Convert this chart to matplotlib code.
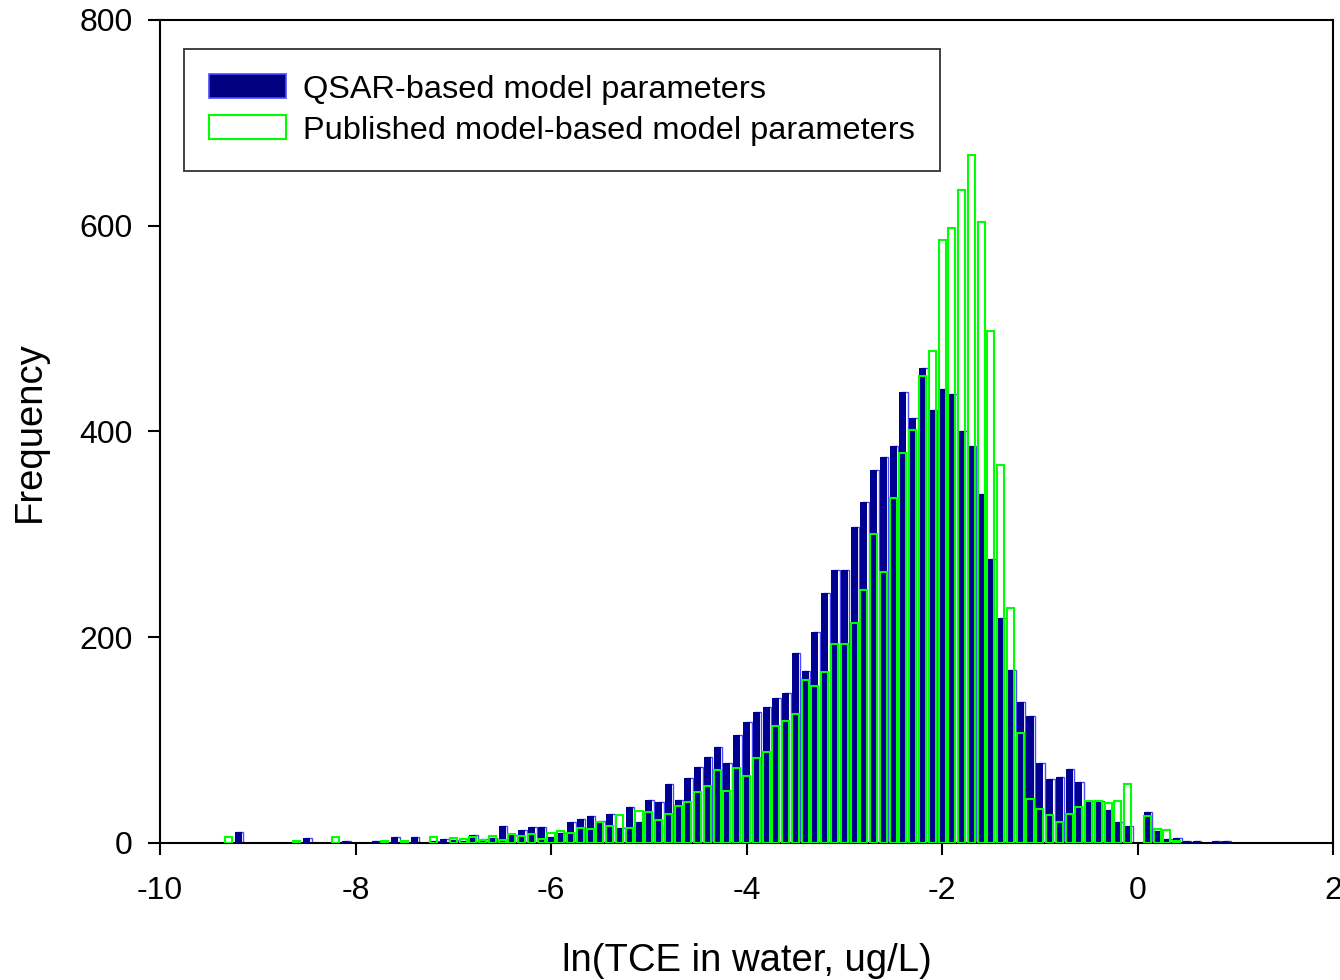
import numpy as np
import matplotlib.pyplot as plt
from matplotlib.patches import Patch

plt.rcParams['font.family'] = ['Liberation Sans', 'DejaVu Sans']
plt.rcParams['axes.unicode_minus'] = False

# histogram bins: centres from -9.3 to 0.9, width 0.1
bin_start = -9.3
bin_width = 0.1

# frequencies (one value per bin)
qsar = [0, 11, 0, 0, 0, 0, 0, 0, 5, 0, 0, 0, 2, 0, 0, 2, 0, 6, 0, 6,
        0, 2, 4, 3, 2, 8, 4, 5, 17, 8, 13, 16, 16, 6, 10, 20, 23, 26, 21, 28,
        15, 35, 20, 42, 40, 57, 42, 63, 74, 84, 93, 78, 105, 118, 127, 132, 141, 146, 185, 167,
        205, 243, 265, 265, 307, 331, 363, 375, 386, 438, 413, 462, 421, 441, 436, 400, 386, 339, 276, 219,
        168, 137, 123, 78, 62, 64, 72, 59, 41, 41, 32, 20, 17, 0, 30, 12, 4, 5, 2, 2,
        0, 2, 1.5]
published = [6, 0, 0, 0, 0, 0, 0, 2, 0, 0, 0, 6, 0, 0, 0, 0, 2, 0, 2, 0,
             0, 6, 0, 5, 4, 6, 3, 7, 3, 9, 7, 9, 4, 10, 12, 10, 15, 14, 20, 17,
             27, 15, 31, 30, 22, 28, 36, 40, 50, 55, 71, 51, 73, 65, 83, 88, 114, 119, 125, 158,
             153, 166, 193, 193, 214, 246, 300, 263, 335, 379, 401, 454, 478, 586, 598, 635, 669, 604, 498, 367,
             228, 107, 43, 33, 27, 20, 28, 35, 41, 41, 39, 41, 57, 0, 26, 14, 13, 2, 0, 0,
             0, 0, 0]

centers = bin_start + bin_width * np.arange(len(qsar))
qsar = np.array(qsar, dtype=float)
published = np.array(published, dtype=float)
# empty bins are not drawn at all
mq = qsar > 0
mp = published > 0

fig = plt.figure(figsize=(13.4, 9.8), dpi=100)
ax = fig.add_axes([0.1194, 0.1398, 0.8754, 0.8398])

bw = 0.072
# light blue outline slightly offset, then the navy fill, then the green outlines
ax.bar(centers[mq] + 0.016, qsar[mq], width=bw, facecolor='none', edgecolor='#4a4aff',
       linewidth=1.0, zorder=2)
ax.bar(centers[mq], qsar[mq], width=bw, color='#000090', linewidth=0, zorder=3)
ax.bar(centers[mp], published[mp], width=bw, facecolor='none', edgecolor='#00ff00',
       linewidth=1.5, zorder=4)

ax.set_xlim(-10, 2)
ax.set_ylim(0, 800)
ax.set_xticks(np.arange(-10, 3, 2))
ax.set_yticks(np.arange(0, 801, 200))

for s in ax.spines.values():
    s.set_linewidth(1.5)
ax.tick_params(direction='out', length=8.5, width=1.5, labelsize=23)
ax.tick_params(axis='x', pad=15)
ax.tick_params(axis='y', pad=11)

ax.set_xlabel('ln(TCE in water, ug/L)', fontsize=27.5, labelpad=27)
ax.set_ylabel('Frequency', fontsize=27.5, labelpad=23)

handles = [Patch(facecolor='#000080', edgecolor='#4a4aff', linewidth=1.2),
           Patch(facecolor='white', edgecolor='#00ff00', linewidth=1.5)]
leg = ax.legend(handles, ['QSAR-based model parameters',
                          'Published model-based model parameters'],
                loc='upper left', bbox_to_anchor=(0.0205, 0.9648), borderaxespad=0,
                fontsize=23.4, frameon=True, fancybox=False, edgecolor='black',
                handlelength=2.35, handleheight=0.75, handletextpad=0.53,
                borderpad=0.78, labelspacing=0.33)
leg.get_frame().set_linewidth(1.3)

fig.savefig('out.png', dpi=100)
